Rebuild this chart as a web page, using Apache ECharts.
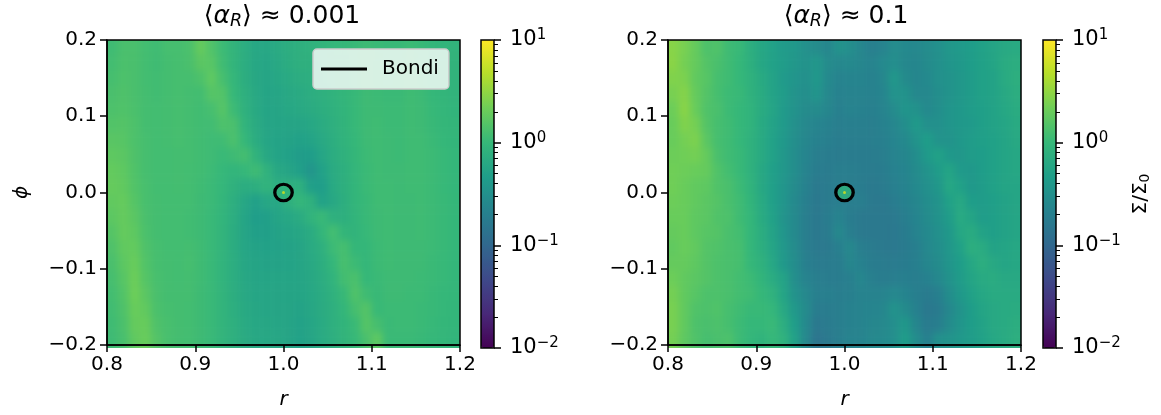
<!DOCTYPE html>
<html>
<head>
<meta charset="utf-8">
<style>
html,body{margin:0;padding:0;background:#fff}
#stage{position:relative;width:1161px;height:415px}
#fieldClip{position:absolute;left:0;top:0;width:1161px;height:415px;clip-path:path('M107 40h353v308h-353z M668 40h353v308h-353z')}
#field{width:1161px;height:415px;filter:blur(3.5px)}
#chart{position:absolute;left:0;top:0;width:1161px;height:415px}
</style>
<script src="https://cdn.jsdelivr.net/npm/echarts@6/dist/echarts.min.js"></script>
</head>
<body>
<div id="stage">
	<div id="fieldClip"><div id="field"></div></div>
	<div id="chart"></div>
</div>
<script>
// cell centres
var rBins = [.806,.819,.831,.844,.856,.869,.881,.894,.906,.919,.931,.944,.956,.969,.981,.994,1.006,1.019,1.031,1.044,1.056,1.069,1.081,1.094,1.106,1.119,1.131,1.144,1.156,1.169,1.181,1.194];
var phiBins = [.19,.17,.15,.13,.11,.09,.07,.05,.03,.01,-.01,-.03,-.05,-.07,-.09,-.11,-.13,-.15,-.17,-.19];

// log10(sigma/sigma0), one row per phiBins entry, top row first
var lowAlphaRows = [
	[.06,.12,.12,.08,.06,.10,.10,.13,.28,.16,.04,-.05,-.14,-.22,-.22,-.18,-.13,-.10,-.08,-.05,-.02,.00,.02,.05,.03,.02,.02,.04,.02,-.02,-.04,-.05],
	[.08,.13,.12,.08,.06,.09,.10,.12,.22,.20,.06,-.04,-.14,-.22,-.24,-.20,-.15,-.11,-.10,-.06,-.03,-.01,.02,.05,.03,.02,.02,.04,.02,-.02,-.04,-.05],
	[.10,.14,.12,.08,.07,.09,.10,.10,.14,.24,.10,-.02,-.13,-.21,-.25,-.22,-.18,-.14,-.12,-.08,-.05,-.02,.02,.05,.03,.02,.03,.05,.03,-.01,-.04,-.05],
	[.12,.15,.12,.09,.07,.09,.10,.09,.08,.19,.17,.00,-.10,-.20,-.26,-.24,-.20,-.18,-.14,-.11,-.07,-.03,.01,.05,.04,.03,.03,.06,.04,.00,-.03,-.05],
	[.14,.16,.13,.09,.08,.09,.10,.09,.07,.10,.19,.04,-.09,-.19,-.26,-.25,-.22,-.20,-.17,-.13,-.09,-.04,.01,.05,.05,.04,.04,.06,.05,.01,-.02,-.04],
	[.17,.18,.14,.09,.08,.09,.10,.09,.07,.07,.14,.12,-.06,-.17,-.25,-.26,-.25,-.25,-.22,-.16,-.10,-.05,.01,.05,.06,.04,.04,.06,.05,.02,-.01,-.03],
	[.21,.20,.14,.10,.08,.09,.10,.09,.07,.05,.06,.13,.00,-.15,-.24,-.27,-.28,-.30,-.27,-.20,-.13,-.06,.00,.05,.06,.05,.04,.06,.06,.03,.00,-.03],
	[.24,.22,.15,.10,.08,.08,.09,.09,.07,.05,.02,.05,.09,-.07,-.21,-.27,-.30,-.36,-.35,-.24,-.15,-.08,-.01,.04,.06,.05,.04,.06,.06,.04,.01,-.02],
	[.27,.24,.16,.10,.08,.08,.09,.08,.07,.04,.00,-.04,.00,.05,-.08,-.21,-.25,-.32,-.44,-.30,-.17,-.10,-.02,.03,.06,.05,.05,.06,.06,.04,.01,-.02],
	[.28,.26,.17,.11,.08,.08,.09,.08,.06,.03,-.02,-.09,-.15,-.12,-.06,-.14,-.12,-.10,-.32,-.34,-.19,-.11,-.03,.03,.06,.06,.05,.06,.06,.04,.01,-.02],
	[.26,.28,.19,.11,.09,.08,.08,.08,.05,.03,-.03,-.12,-.23,-.31,-.22,-.22,-.10,-.02,-.09,-.30,-.21,-.12,-.03,.02,.06,.06,.05,.05,.06,.04,.02,-.01],
	[.23,.28,.22,.12,.09,.08,.08,.07,.05,.02,-.04,-.14,-.26,-.35,-.32,-.26,-.22,-.16,-.06,.02,-.10,-.11,-.04,.02,.05,.06,.05,.05,.06,.04,.02,-.01],
	[.19,.28,.24,.13,.09,.08,.08,.07,.05,.02,-.05,-.15,-.25,-.32,-.32,-.28,-.26,-.23,-.16,-.03,.08,-.03,-.05,.01,.05,.06,.05,.05,.06,.04,.02,-.01],
	[.15,.26,.27,.15,.10,.08,.08,.09,.06,.02,-.05,-.15,-.24,-.28,-.30,-.29,-.28,-.25,-.18,-.10,.04,.10,-.01,-.01,.04,.06,.05,.05,.05,.04,.02,-.01],
	[.12,.23,.30,.17,.10,.09,.08,.10,.06,.02,-.06,-.14,-.23,-.26,-.28,-.28,-.27,-.25,-.20,-.13,-.02,.11,.04,-.02,.04,.06,.05,.05,.05,.03,.01,-.02],
	[.10,.20,.32,.19,.11,.09,.08,.09,.06,.02,-.06,-.14,-.21,-.25,-.26,-.26,-.26,-.25,-.21,-.15,-.06,.08,.13,.00,.03,.05,.05,.05,.04,.03,.01,-.02],
	[.08,.17,.33,.22,.12,.09,.09,.09,.05,.02,-.05,-.13,-.20,-.24,-.24,-.25,-.26,-.26,-.22,-.16,-.09,.02,.16,.06,.02,.05,.05,.04,.04,.02,.00,-.02],
	[.07,.15,.30,.26,.13,.10,.09,.08,.05,.02,-.05,-.12,-.19,-.23,-.24,-.25,-.25,-.28,-.23,-.17,-.10,-.02,.10,.18,.02,.04,.04,.04,.03,.02,.00,-.03],
	[.06,.13,.28,.29,.15,.11,.09,.08,.05,.02,-.05,-.11,-.18,-.22,-.23,-.24,-.25,-.29,-.24,-.18,-.11,-.04,.03,.19,.10,.03,.04,.04,.03,.01,-.01,-.03],
	[.05,.11,.25,.30,.18,.11,.09,.08,.05,.02,-.05,-.10,-.17,-.21,-.22,-.23,-.25,-.30,-.25,-.18,-.12,-.05,.01,.12,.24,.03,.03,.03,.02,.00,-.02,-.04]
];
var highAlphaRows = [
	[.45,.38,.28,.14,.16,.05,.02,-.12,-.22,-.30,-.38,-.40,-.50,-.55,-.62,-.48,-.52,-.62,-.70,-.65,-.55,-.58,-.60,-.55,-.50,-.42,-.38,-.35,-.30,-.25,-.20,-.18],
	[.46,.36,.28,.18,.12,.06,.00,-.10,-.22,-.30,-.36,-.42,-.48,-.42,-.56,-.60,-.58,-.62,-.66,-.58,-.52,-.60,-.62,-.56,-.50,-.44,-.40,-.34,-.30,-.26,-.16,-.14],
	[.42,.40,.26,.20,.10,.06,.00,-.08,-.18,-.28,-.38,-.44,-.50,-.40,-.58,-.66,-.64,-.64,-.68,-.62,-.42,-.56,-.62,-.58,-.50,-.46,-.42,-.36,-.30,-.28,-.18,-.12],
	[.38,.44,.28,.18,.10,.04,.02,-.08,-.16,-.28,-.36,-.46,-.52,-.44,-.60,-.68,-.66,-.66,-.68,-.64,-.46,-.46,-.60,-.60,-.52,-.46,-.42,-.36,-.30,-.28,-.20,-.14],
	[.32,.46,.30,.16,.12,.04,.00,-.06,-.16,-.26,-.38,-.48,-.56,-.56,-.62,-.70,-.66,-.68,-.70,-.66,-.56,-.44,-.48,-.58,-.52,-.44,-.40,-.36,-.32,-.28,-.22,-.16],
	[.30,.42,.36,.18,.10,.06,.00,-.06,-.18,-.28,-.38,-.50,-.60,-.64,-.68,-.72,-.70,-.70,-.72,-.68,-.62,-.52,-.38,-.50,-.50,-.44,-.40,-.38,-.32,-.28,-.24,-.18],
	[.30,.36,.40,.22,.10,.06,.00,-.08,-.18,-.30,-.40,-.52,-.62,-.68,-.70,-.74,-.72,-.72,-.72,-.70,-.64,-.58,-.46,-.34,-.46,-.46,-.40,-.36,-.32,-.30,-.26,-.20],
	[.32,.34,.36,.28,.12,.06,.02,-.08,-.18,-.30,-.42,-.54,-.64,-.72,-.74,-.76,-.74,-.74,-.74,-.72,-.66,-.62,-.54,-.38,-.30,-.40,-.42,-.36,-.34,-.30,-.26,-.22],
	[.34,.32,.30,.28,.16,.08,.02,-.08,-.20,-.32,-.42,-.54,-.66,-.74,-.76,-.72,-.72,-.74,-.76,-.74,-.68,-.64,-.56,-.46,-.36,-.26,-.38,-.40,-.34,-.30,-.26,-.22],
	[.34,.30,.26,.24,.16,.12,.04,-.06,-.20,-.32,-.44,-.56,-.68,-.78,-.76,-.72,-.72,-.74,-.78,-.76,-.70,-.66,-.58,-.50,-.42,-.22,-.30,-.40,-.36,-.30,-.26,-.24],
	[.32,.30,.26,.22,.18,.12,.06,-.04,-.18,-.32,-.44,-.58,-.70,-.80,-.76,-.72,-.72,-.72,-.78,-.80,-.74,-.68,-.62,-.54,-.46,-.30,-.20,-.34,-.36,-.32,-.28,-.24],
	[.30,.30,.24,.22,.16,.14,.06,-.02,-.16,-.30,-.46,-.58,-.72,-.80,-.74,-.66,-.74,-.78,-.78,-.80,-.78,-.72,-.64,-.56,-.48,-.36,-.18,-.26,-.36,-.32,-.28,-.24],
	[.28,.30,.24,.20,.18,.12,.08,-.02,-.14,-.28,-.44,-.58,-.72,-.80,-.76,-.60,-.72,-.78,-.78,-.80,-.80,-.74,-.66,-.58,-.50,-.40,-.22,-.16,-.28,-.32,-.28,-.24],
	[.26,.30,.26,.18,.16,.12,.10,-.02,-.12,-.26,-.42,-.56,-.72,-.78,-.78,-.70,-.60,-.72,-.76,-.78,-.80,-.76,-.70,-.60,-.52,-.42,-.30,-.12,-.16,-.28,-.26,-.22],
	[.28,.28,.24,.18,.14,.12,.10,.00,-.08,-.22,-.40,-.54,-.70,-.76,-.76,-.74,-.62,-.68,-.74,-.76,-.76,-.74,-.70,-.62,-.56,-.44,-.34,-.22,-.12,-.20,-.24,-.22],
	[.32,.26,.22,.18,.14,.12,.08,.04,-.04,-.16,-.28,-.52,-.66,-.72,-.74,-.74,-.70,-.62,-.70,-.74,-.72,-.70,-.72,-.68,-.60,-.48,-.36,-.26,-.18,-.16,-.20,-.20],
	[.36,.26,.20,.14,.14,.12,.08,.06,.00,-.08,-.26,-.48,-.60,-.70,-.70,-.72,-.70,-.66,-.66,-.66,-.60,-.64,-.70,-.76,-.70,-.54,-.40,-.30,-.22,-.18,-.18,-.18],
	[.38,.26,.16,.14,.16,.10,.06,.02,.02,-.02,-.20,-.40,-.56,-.74,-.74,-.72,-.68,-.66,-.64,-.62,-.48,-.56,-.68,-.80,-.76,-.60,-.46,-.34,-.26,-.20,-.18,-.16],
	[.38,.26,.14,.12,.14,.10,.04,.00,.00,.02,-.14,-.34,-.58,-.80,-.76,-.72,-.68,-.66,-.62,-.60,-.52,-.40,-.62,-.76,-.72,-.56,-.44,-.34,-.28,-.20,-.18,-.14],
	[.36,.24,.16,.10,.12,.14,.04,-.02,-.06,.00,-.08,-.30,-.60,-.84,-.78,-.72,-.66,-.66,-.60,-.58,-.52,-.34,-.54,-.70,-.50,-.46,-.40,-.36,-.30,-.22,-.18,-.12]
];

var bondiPoint = [[1.0, 0.0]];
var colorbarTicks = [-2, -1, 0, 1];
var colorbarMinorTicks = [-1.699,-1.523,-1.398,-1.301,-1.222,-1.155,-1.097,-1.046,-.699,-.523,-.398,-.301,-.222,-.155,-.097,-.046,.301,.477,.602,.699,.778,.845,.903,.954];
var viridis = ['#440154','#482878','#3e4989','#31688e','#26828e','#1f9e89','#35b779','#6ece58','#b5de2b','#fde725'];

var FONT = 'DejaVu Sans';
var BLACK = '#000';

// the edge rows and columns repeat one cell outward so the soft layer keeps its colour at the frame
function cells(rows) {
	var out = [], nRow = rows.length, nCol = rows[0].length;
	for (var i = -1; i <= nRow; i++) {
		for (var j = -1; j <= nCol; j++) {
			var row = rows[Math.max(0, Math.min(nRow - 1, i))];
			out.push([j + 1, nRow - i, row[Math.max(0, Math.min(nCol - 1, j))]]);
		}
	}
	return out;
}
function oneDecimal(v) {
	var s = Math.abs(v).toFixed(1);
	return v < -0.001 ? '\u2212' + s : s;
}
function powerLabel(v) {
	return '{b|10}{s|' + String(v).replace('-', '\u2212') + '}';
}
function titleRich() {
	return {
		n: {fontFamily: FONT, fontSize: 25, fontWeight: 'normal', color: BLACK},
		a: {fontFamily: FONT, fontSize: 25, fontWeight: 'normal', fontStyle: 'italic', color: BLACK},
		r: {fontFamily: FONT, fontSize: 17.5, fontWeight: 'normal', fontStyle: 'italic', color: BLACK, padding: [9, 0, 0, 0]}
	};
}

/* heatmap layer */
var fieldOption = {
	animation: false,
	grid: [
		{left: 96, top: 24.6, width: 375.06, height: 338.8},
		{left: 657, top: 24.6, width: 375.06, height: 338.8}
	],
	xAxis: [0, 1].map(function (g) {
		return {type: 'category', gridIndex: g, show: false, data: [''].concat(rBins, ['.'])};
	}),
	yAxis: [0, 1].map(function (g) {
		return {type: 'category', gridIndex: g, show: false, data: [''].concat(phiBins.slice().reverse(), ['.'])};
	}),
	visualMap: {show: false, type: 'continuous', min: -2, max: 1, seriesIndex: [0, 1], inRange: {color: viridis}},
	series: [
		{type: 'heatmap', xAxisIndex: 0, yAxisIndex: 0, data: cells(lowAlphaRows), progressive: 0, silent: true},
		{type: 'heatmap', xAxisIndex: 1, yAxisIndex: 1, data: cells(highAlphaRows), progressive: 0, silent: true}
	]
};
echarts.init(document.getElementById('field')).setOption(fieldOption);

/* axes, colour bars and markers on top */
var xAxes = [], yAxes = [];
[0, 1].forEach(function (g) {
	xAxes.push({type: 'value', gridIndex: g, min: 0.8, max: 1.2, interval: 0.1, position: 'bottom', z: 5,
		name: 'r', nameLocation: 'middle', nameGap: 45,
		nameTextStyle: {fontFamily: FONT, fontSize: 20, fontStyle: 'italic', color: BLACK},
		splitLine: {show: false},
		axisLine: {show: true, onZero: false, lineStyle: {color: BLACK, width: 1.5}},
		axisTick: {show: true, length: 7, lineStyle: {color: BLACK, width: 1.5}},
		axisLabel: {fontFamily: FONT, fontSize: 20, color: BLACK, margin: 10, formatter: oneDecimal, showMinLabel: true, showMaxLabel: true,
			alignMinLabel: 'center', alignMaxLabel: 'center'}});
	yAxes.push({type: 'value', gridIndex: g, min: -0.2, max: 0.2, interval: 0.1, position: 'left', z: 5,
		name: g === 0 ? '\u03d5' : '', nameLocation: 'middle', nameGap: 75, nameRotate: 90,
		nameTextStyle: {fontFamily: FONT, fontSize: 20, fontStyle: 'italic', color: BLACK},
		splitLine: {show: false},
		axisLine: {show: true, onZero: false, lineStyle: {color: BLACK, width: 1.5}},
		axisTick: {show: true, length: 7, lineStyle: {color: BLACK, width: 1.5}},
		axisLabel: {fontFamily: FONT, fontSize: 20, color: BLACK, margin: 10, formatter: oneDecimal, showMinLabel: true, showMaxLabel: true,
			verticalAlignMinLabel: 'middle', verticalAlignMaxLabel: 'middle'}});
});
[2, 3].forEach(function (g) {
	xAxes.push({type: 'value', gridIndex: g, show: false, min: 0, max: 1});
	yAxes.push({type: 'value', gridIndex: g, min: -2, max: 1, interval: 1, position: 'right', z: 5,
		name: g === 3 ? '{v|\u03a3/\u03a3}{u|0}' : '', nameLocation: 'middle', nameGap: 74, nameRotate: 90,
		nameTextStyle: {rich: {
			v: {fontFamily: FONT, fontSize: 20, color: BLACK},
			u: {fontFamily: FONT, fontSize: 14, color: BLACK, padding: [8, 0, 0, 0]}
		}},
		splitLine: {show: false},
		axisLine: {show: false, onZero: false},
		axisTick: {show: true, length: 7, lineStyle: {color: BLACK, width: 1.5}, customValues: colorbarTicks},
		axisLabel: {customValues: colorbarTicks, margin: 16, formatter: powerLabel,
			verticalAlignMinLabel: 'middle', verticalAlignMaxLabel: 'middle', rich: {
			b: {fontFamily: FONT, fontSize: 21, color: BLACK},
			s: {fontFamily: FONT, fontSize: 15, color: BLACK, padding: [0, 0, 9, 0]}
		}}});
	yAxes.push({type: 'value', gridIndex: g, min: -2, max: 1, interval: 1, position: 'right', z: 5,
		splitLine: {show: false},
		axisLine: {show: false, onZero: false},
		axisTick: {show: true, length: 4, lineStyle: {color: BLACK, width: 1}, customValues: colorbarMinorTicks},
		axisLabel: {show: false}});
});

function markerSeries(gridNo) {
	var common = {type: 'scatter', xAxisIndex: gridNo, yAxisIndex: gridNo, data: bondiPoint, silent: true};
	return [
		Object.assign({}, common, {symbolSize: 14, z: 3, itemStyle: {color: '#30b37b'}}),
		Object.assign({}, common, {symbolSize: 3, z: 4, itemStyle: {color: '#d8e219'}}),
		Object.assign({}, common, {name: 'Bondi', symbolSize: [17.5, 16.5], z: 5,
			itemStyle: {color: 'rgba(0,0,0,0)', borderColor: BLACK, borderWidth: 3.2, opacity: 1}})
	];
}

var frame = {show: true, backgroundColor: 'rgba(0,0,0,0)', borderColor: BLACK, borderWidth: 1.5};
var option = {
	animation: false,
	backgroundColor: 'rgba(0,0,0,0)',
	title: [
		{text: '{n|\u27e8}{a|\u03b1}{r|R}{n|\u27e9 \u2248 0.001}', left: 277, top: -2, textAlign: 'center', textStyle: {rich: titleRich()}},
		{text: '{n|\u27e8}{a|\u03b1}{r|R}{n|\u27e9 \u2248 0.1}', left: 841, top: -2, textAlign: 'center', textStyle: {rich: titleRich()}}
	],
	legend: {
		data: ['Bondi'], left: 313, top: 49, icon: 'rect', itemWidth: 46, itemHeight: 3,
		padding: [10, 10, 10, 8], backgroundColor: 'rgba(255,255,255,0.8)', borderColor: '#ccc', borderWidth: 1.5, borderRadius: 4,
		itemStyle: {color: BLACK, borderWidth: 0}, selectedMode: false,
		textStyle: {fontFamily: FONT, fontSize: 20, color: BLACK, padding: [0, 0, 0, 10]}
	},
	grid: [
		Object.assign({left: 107, top: 40, width: 353, height: 308}, frame),
		Object.assign({left: 668, top: 40, width: 353, height: 308}, frame),
		Object.assign({left: 481, top: 40, width: 13, height: 308, z: 10}, frame),
		Object.assign({left: 1043, top: 40, width: 13, height: 308, z: 10}, frame)
	],
	xAxis: xAxes,
	yAxis: yAxes,
	visualMap: [
		{type: 'continuous', seriesIndex: [], min: -2, max: 1, left: 481, top: 40, itemWidth: 13, itemHeight: 308, padding: 0, text: null, calculable: false, hoverLink: false, inRange: {color: viridis}},
		{type: 'continuous', seriesIndex: [], min: -2, max: 1, left: 1043, top: 40, itemWidth: 13, itemHeight: 308, padding: 0, text: null, calculable: false, hoverLink: false, inRange: {color: viridis}}
	],
	series: markerSeries(0).concat(markerSeries(1))
};
echarts.init(document.getElementById('chart')).setOption(option);
</script>
</body>
</html>
